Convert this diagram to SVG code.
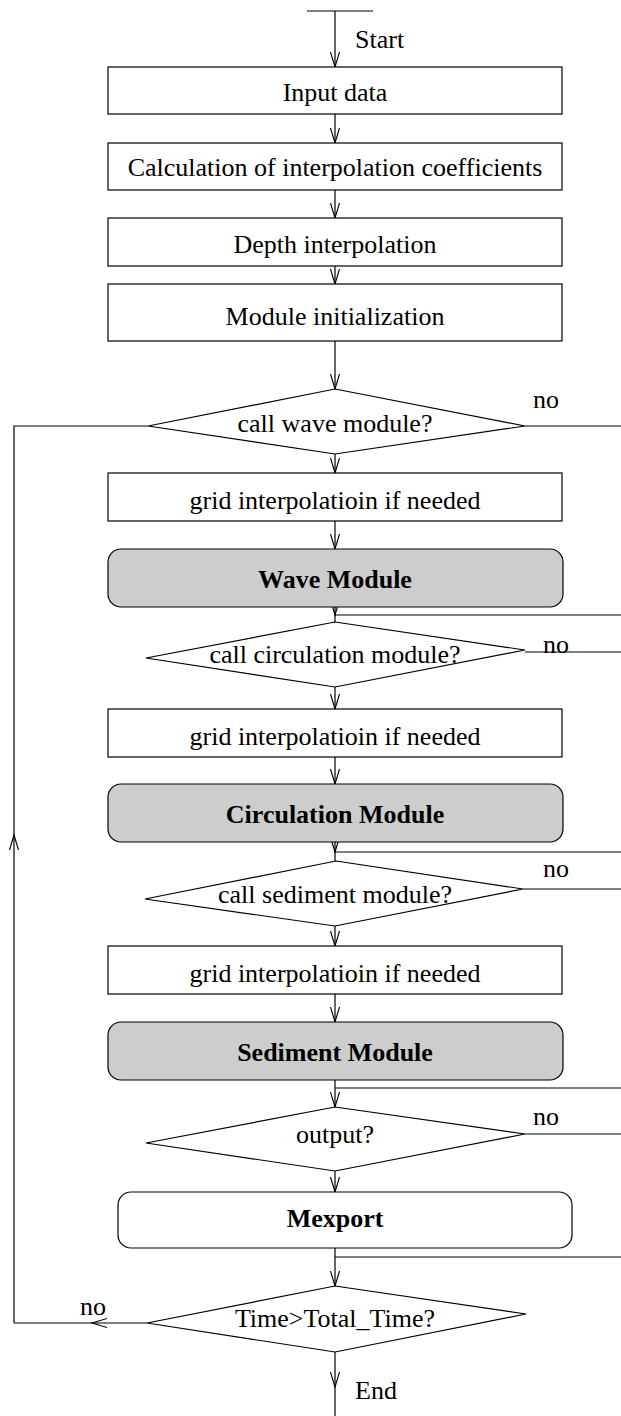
<svg xmlns="http://www.w3.org/2000/svg" width="621" height="1416" viewBox="0 0 621 1416">
<style>
text{font-family:"Liberation Serif","Times New Roman",serif;font-size:26px;fill:#000}
.c{text-anchor:middle}
.b{font-weight:bold}
.box{fill:#fff;stroke:#000;stroke-width:1.2}
.mod{fill:#cdcdcd;stroke:#000;stroke-width:1.2}
.dia{fill:#fff;stroke:#000;stroke-width:1.2}
.ln{fill:none;stroke:#000;stroke-width:1.2}
.ar{fill:none;stroke:#000;stroke-width:1.2;marker-end:url(#ah)}
</style>
<defs>
<marker id="ah" markerUnits="userSpaceOnUse" markerWidth="17" markerHeight="12" refX="15" refY="6" orient="auto">
<path d="M0,1.5 L15,6 L0,10.5" fill="none" stroke="#000" stroke-width="1.1"/>
</marker>
</defs>
<rect width="621" height="1416" fill="#fff"/>
<g id="connectors">
<path class="ln" d="M307,11 H373"/>
<path class="ar" d="M335,11 V67"/>
<path class="ar" d="M335,114 V143"/>
<path class="ar" d="M335,190 V218"/>
<path class="ar" d="M335,266 V284"/>
<path class="ar" d="M335,341 V389"/>
<path class="ar" d="M335,454 V473"/>
<path class="ar" d="M335,521 V549"/>
<path class="ar" d="M335,600 V615"/>
<path class="ln" d="M335,615 V622"/>
<path class="ar" d="M335,687 V709"/>
<path class="ar" d="M335,757 V784"/>
<path class="ar" d="M335,835 V852"/>
<path class="ln" d="M335,852 V861"/>
<path class="ar" d="M335,926 V946"/>
<path class="ar" d="M335,994 V1022"/>
<path class="ar" d="M335,1080 V1107"/>
<path class="ar" d="M335,1171 V1192"/>
<path class="ln" d="M335,1248 V1257"/>
<path class="ar" d="M335,1257 V1286"/>
<path class="ar" d="M335,1352 V1387"/>
<path class="ln" d="M335,1387 V1416"/>
<path class="ln" d="M335,615 H621"/>
<path class="ln" d="M335,852 H621"/>
<path class="ln" d="M335,1088 H621"/>
<path class="ln" d="M335,1257 H621"/>
<path class="ln" d="M525,426 H621"/>
<path class="ln" d="M525,652 H621"/>
<path class="ln" d="M523,889 H621"/>
<path class="ln" d="M525,1134 H621"/>
<path class="ar" d="M147,1323 H92"/>
<path class="ln" d="M92,1323 H14"/>
<path class="ar" d="M14,1323 V835"/>
<path class="ln" d="M14,835 V426 H148"/>
<text x="355" y="48">Start</text>
<text x="355" y="1399">End</text>
<text x="533" y="408">no</text>
<text x="543" y="653">no</text>
<text x="543" y="877">no</text>
<text x="533" y="1125">no</text>
<text x="80" y="1315">no</text>
</g>
<g id="n-input"><rect class="box" x="108" y="67" width="454" height="47"/><text class="c" x="335" y="101">Input data</text></g>
<g id="n-calc"><rect class="box" x="108" y="143" width="454" height="47"/><text class="c" x="335" y="176">Calculation of interpolation coefficients</text></g>
<g id="n-depth"><rect class="box" x="108" y="218" width="454" height="48"/><text class="c" x="335" y="253">Depth interpolation</text></g>
<g id="n-init"><rect class="box" x="108" y="284" width="454" height="57"/><text class="c" x="335" y="325">Module initialization</text></g>
<g id="d-wave"><polygon class="dia" points="335,389 525,426 335,454 148,426"/><text class="c" x="335" y="432">call wave module?</text></g>
<g id="n-grid1"><rect class="box" x="108" y="473" width="454" height="48"/><text class="c" x="335" y="509">grid interpolatioin if needed</text></g>
<g id="n-wave"><rect class="mod" x="108" y="549" width="455" height="58" rx="13"/><text class="c b" x="335" y="588">Wave Module</text></g>
<g id="d-circ"><polygon class="dia" points="335,622 525,650 335,687 146,658"/><text class="c" x="335" y="663">call circulation module?</text></g>
<g id="n-grid2"><rect class="box" x="108" y="709" width="454" height="48"/><text class="c" x="335" y="745">grid interpolatioin if needed</text></g>
<g id="n-circ"><rect class="mod" x="108" y="784" width="455" height="58" rx="13"/><text class="c b" x="335" y="823">Circulation Module</text></g>
<g id="d-sed"><polygon class="dia" points="336,861 523,889 335,926 145,899"/><text class="c" x="335" y="903">call sediment module?</text></g>
<g id="n-grid3"><rect class="box" x="108" y="946" width="454" height="48"/><text class="c" x="335" y="982">grid interpolatioin if needed</text></g>
<g id="n-sed"><rect class="mod" x="108" y="1022" width="455" height="58" rx="13"/><text class="c b" x="335" y="1061">Sediment Module</text></g>
<g id="d-out"><polygon class="dia" points="335,1107 525,1134 335,1171 146,1143"/><text class="c" x="335" y="1143">output?</text></g>
<g id="n-mexport"><rect class="box" x="118" y="1192" width="454" height="56" rx="13"/><text class="c b" x="335" y="1227">Mexport</text></g>
<g id="d-time"><polygon class="dia" points="335,1286 526,1314 335,1352 147,1323"/><text class="c" x="335" y="1327">Time&gt;Total_Time?</text></g>
</svg>
